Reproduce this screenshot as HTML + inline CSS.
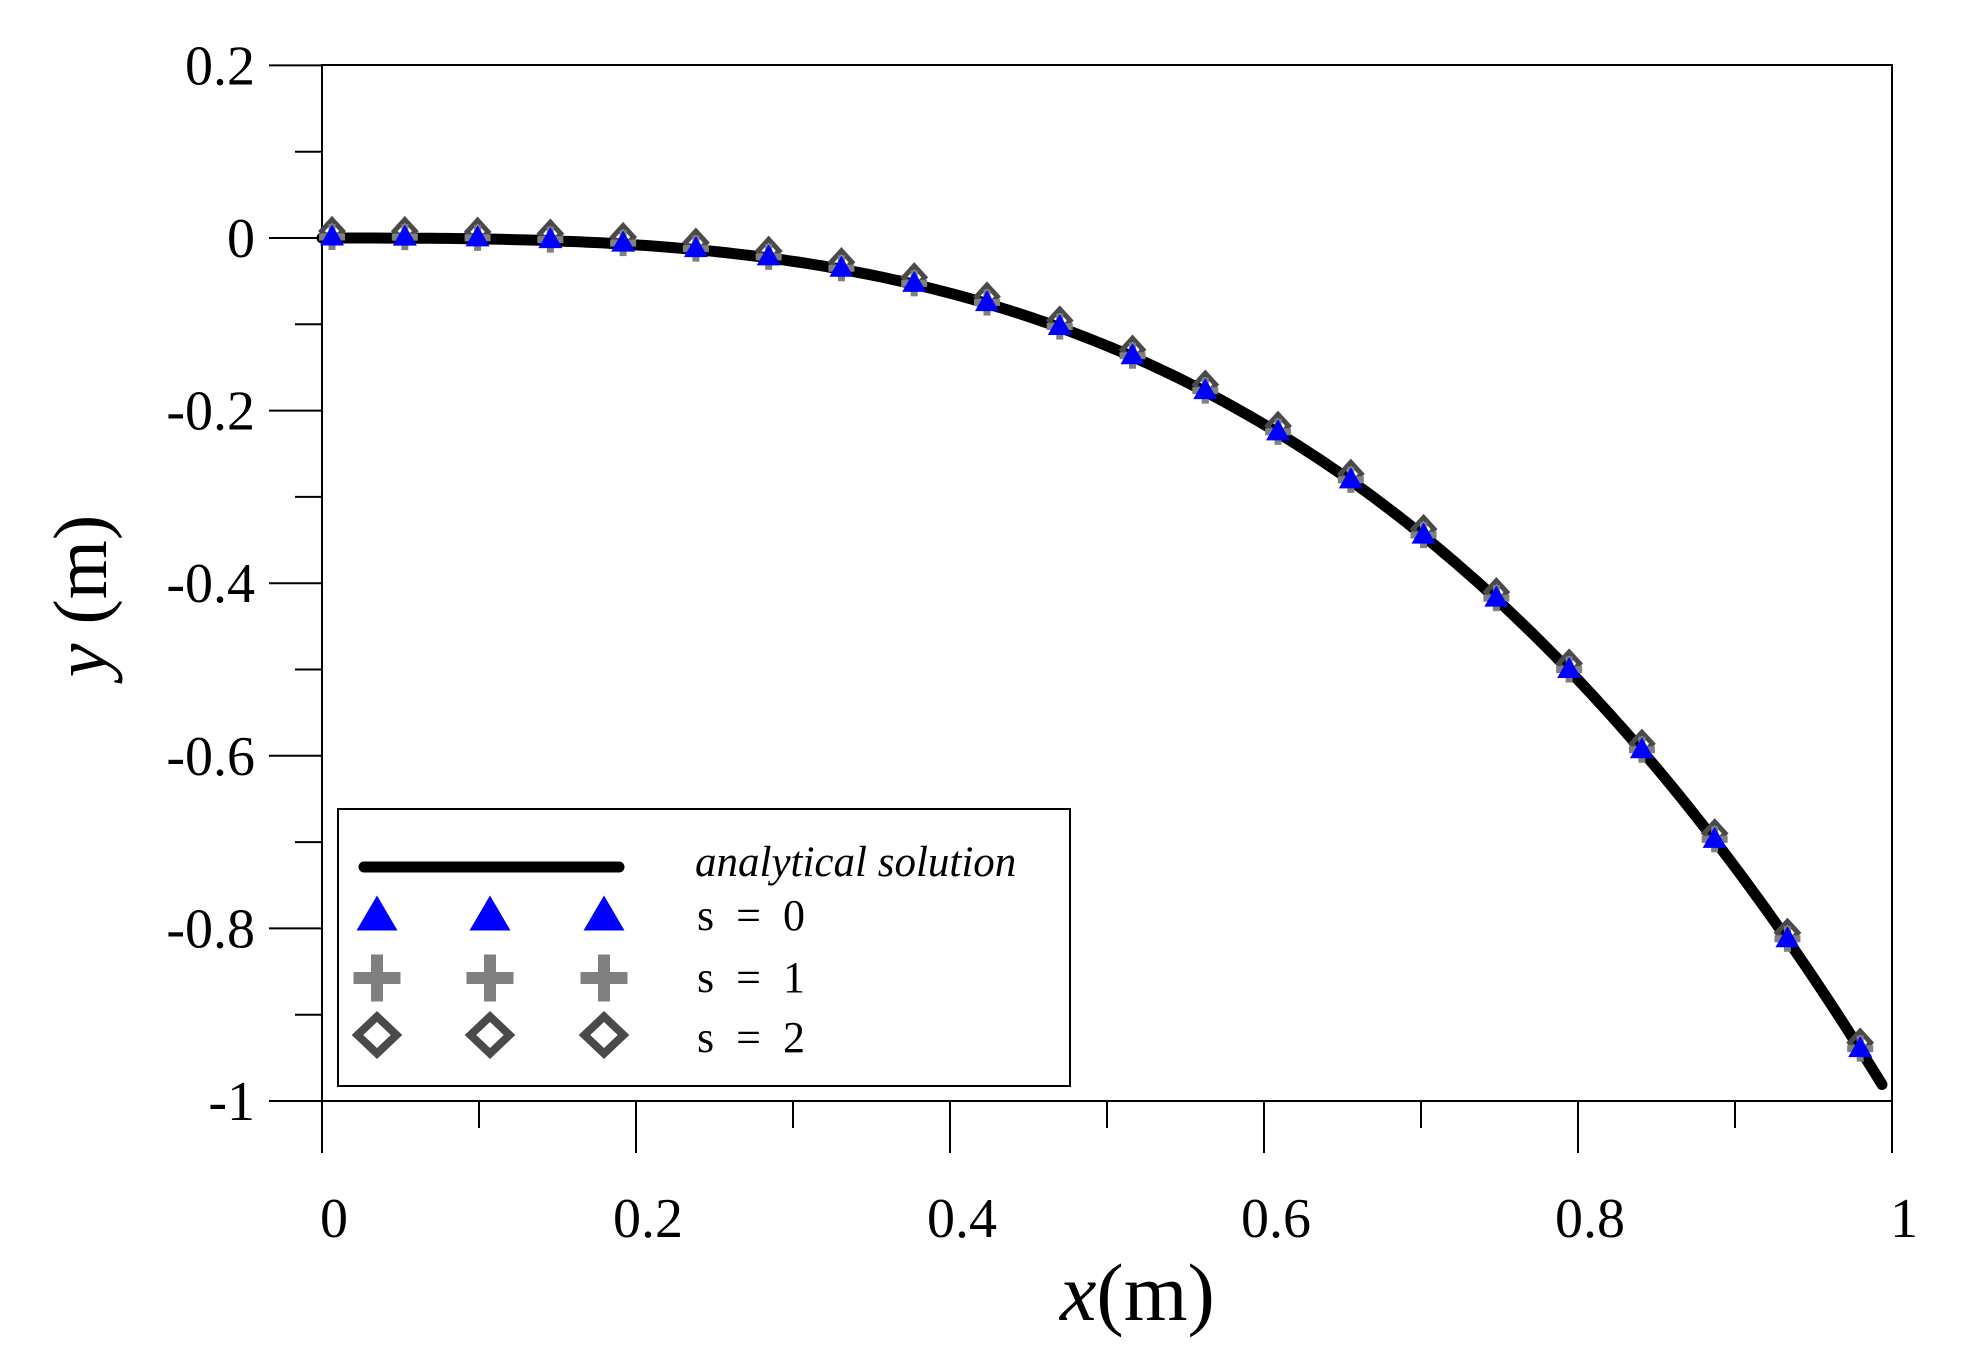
<!DOCTYPE html>
<html><head><meta charset="utf-8"><style>
html,body{margin:0;padding:0;background:#fff;}
svg{display:block;}
text{font-family:"Liberation Serif",serif;fill:#000;}
</style></head><body>
<svg id="s" width="1972" height="1364" viewBox="0 0 1972 1364" xmlns="http://www.w3.org/2000/svg">
<rect width="1972" height="1364" fill="#fff"/>
<g id="axes" stroke="#000" stroke-width="2" fill="none">
<rect x="322" y="65" width="1570" height="1036"/>
</g>
<g id="ticks" stroke="#000" stroke-width="2"></g>
<g id="labels" font-size="56"></g>
<path id="curve" fill="none" stroke="#000" stroke-width="11" stroke-linecap="round" stroke-linejoin="round"/>
<g id="marks"></g>
<text x="1060" y="1320" font-size="82"><tspan font-style="italic">x</tspan>(m)</text>
<text transform="translate(106,596) rotate(-90)" font-size="76" text-anchor="middle"><tspan font-style="italic">y</tspan> (m)</text>
<g>
<rect x="338" y="809" width="732" height="277" fill="#fff" stroke="#000" stroke-width="2"/>
<line x1="364" y1="867" x2="619" y2="867" stroke="#000" stroke-width="11" stroke-linecap="round"/>
<text x="695" y="876" font-size="43" font-style="italic">analytical solution</text>
<text x="697" y="930" font-size="44" xml:space="preserve">s  =  0</text>
<text x="697" y="992" font-size="44" xml:space="preserve">s  =  1</text>
<text x="697" y="1052" font-size="44" xml:space="preserve">s  =  2</text>
<g id="leg"></g>
</g>
</svg>
<script>
var NS="http://www.w3.org/2000/svg";
function el(p,t,a){var e=document.createElementNS(NS,t);for(var k in a)e.setAttribute(k,a[k]);p.appendChild(e);return e;}
var X=function(x){return 322+1570*x;}, Y=function(y){return 238-863*y;};
var tk=document.getElementById('ticks'), lb=document.getElementById('labels');
for(var i=0;i<=12;i++){var v=0.2-i*0.1,y=Y(v),maj=(i%2==0);
 el(tk,'line',{x1:maj?269:295,y1:y,x2:322,y2:y});
 if(maj){var t=el(lb,'text',{x:255,y:y+19,'text-anchor':'end'});var s=Math.round(v*10)/10;t.textContent=s==0?"0":(s==-1?"-1":String(s));}}
for(var i=0;i<=10;i++){var x=X(i*0.1),maj=(i%2==0);
 el(tk,'line',{x1:x,y1:1101,x2:x,y2:maj?1153:1128});
 if(maj){var t=el(lb,'text',{x:x+12,y:1237,'text-anchor':'middle'});t.textContent=i==0?"0":(i==10?"1":String(i/10));}}
var d="";for(var i=0;i<=200;i++){var x=i/200*0.9936;d+=(i?"L":"M")+X(x).toFixed(1)+","+Y(-x*x*x).toFixed(1);}
document.getElementById('curve').setAttribute('d',d);
var mk=document.getElementById('marks');
function tri(p,cx,cy,w,h){el(p,'polygon',{points:(cx-w/2)+","+(cy+h/2)+" "+(cx+w/2)+","+(cy+h/2)+" "+cx+","+(cy-h/2),fill:"#0000ff"});}
function plus(p,cx,cy,w,t){el(p,'rect',{x:cx-w/2,y:cy-t/2,width:w,height:t,fill:"#808080"});el(p,'rect',{x:cx-t/2,y:cy-w/2,width:t,height:w,fill:"#808080"});}
function dia(p,cx,cy,w,h,sw){el(p,'polygon',{points:cx+","+(cy-h/2+sw/2)+" "+(cx+w/2-sw/2)+","+cy+" "+cx+","+(cy+h/2-sw/2)+" "+(cx-w/2+sw/2)+","+cy,fill:"none",stroke:"#4a4a4a","stroke-width":sw});}
for(var i=0;i<22;i++){var x=0.0064+i*0.04635,px=X(x),py=Y(-x*x*x);
 dia(mk,px,py-7,26,28,5);plus(mk,px,py-1,26,7);tri(mk,px,py-3,24,21);}
var lg=document.getElementById('leg');
[377,490,604].forEach(function(cx){tri(lg,cx,913,41,35);plus(lg,cx,978,47,12);dia(lg,cx,1035,47,45,8);});
</script>
</body></html>
